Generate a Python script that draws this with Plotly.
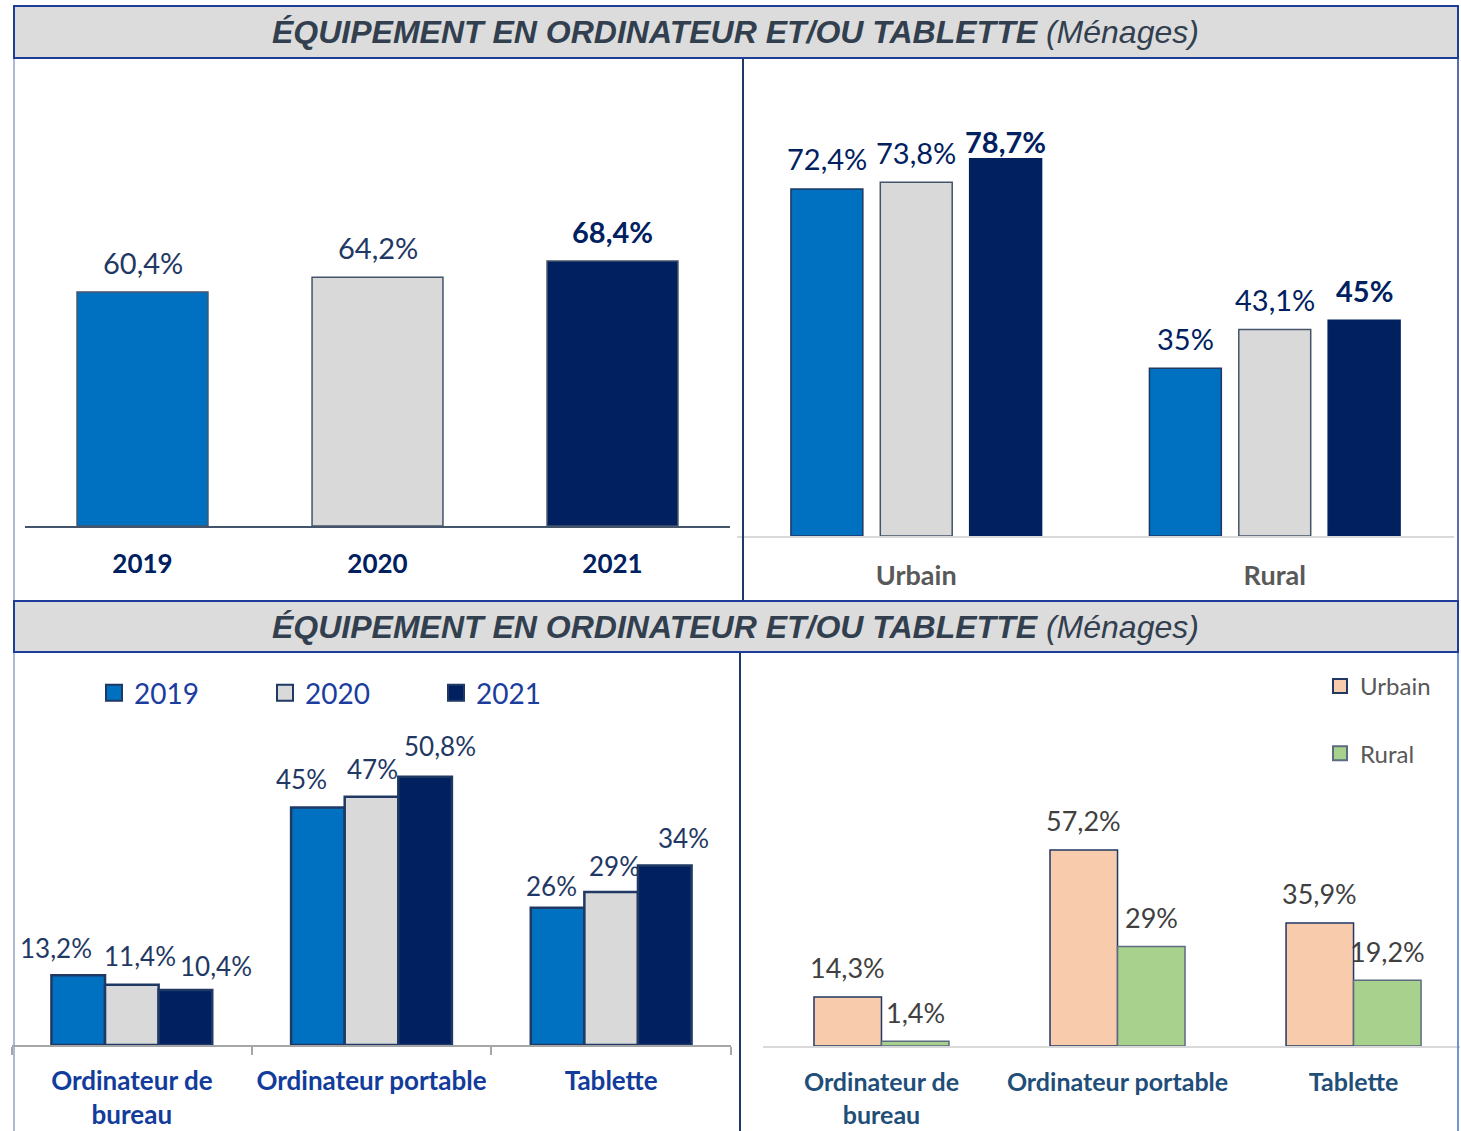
import plotly.graph_objects as go

# ---------------- data ----------------
years = ["2019", "2020", "2021"]
overall = [60.4, 64.2, 68.4]

zones = ["Urbain", "Rural"]
zone_2019 = [72.4, 35.0]
zone_2020 = [73.8, 43.1]
zone_2021 = [78.7, 45.0]

devices = ["Ordinateur de<br>bureau", "Ordinateur portable", "Tablette"]
dev_2019 = [13.2, 45.0, 26.0]
dev_2020 = [11.4, 47.0, 29.0]
dev_2021 = [10.4, 50.8, 34.0]

dev_urbain = [14.3, 57.2, 35.9]
dev_rural = [1.4, 29.0, 19.2]

title_txt = "<i><b>ÉQUIPEMENT EN ORDINATEUR ET/OU TABLETTE</b> (Ménages)</i>"

# ---------------- styling ----------------
W, H = 1461, 1131
BLUE, GREY, NAVY = "#0070C0", "#D9D9D9", "#002060"
PEACH, GREEN = "#F8CBAD", "#A9D18E"
FONT = "Lato"


def px(x):
    return x / W


def py(y):
    return 1 - y / H


def fmt(v):
    return f"{v:g}".replace(".", ",") + "%"


fig = go.Figure()
annotations = []


def label(xref, yref, x, y, text, size, color, bold=False, xshift=0, yshift=30):
    annotations.append(dict(
        xref=xref, yref=yref, x=x, y=y, text=(f"<b>{text}</b>" if bold else text),
        showarrow=False, xanchor="center", yanchor="middle",
        xshift=xshift, yshift=yshift,
        font=dict(family=FONT, size=size, color=color)))


# ---------- top-left : overall by year ----------
w1 = 0.557
fig.add_trace(go.Bar(
    x=years, y=overall, xaxis="x", yaxis="y", width=w1, offset=-w1 / 2,
    marker=dict(color=[BLUE, GREY, NAVY], line=dict(color="#44546A", width=1.5)),
    showlegend=False, hoverinfo="skip"))
for i, v in enumerate(overall):
    bold = i == len(overall) - 1
    label("x", "y", i, v, fmt(v), 29, NAVY if bold else "#1F3864", bold=bold)

# ---------- top-right : by zone and year ----------
sp2 = 0.2493   # centre spacing between bars of a group (category units)
w2 = 0.2006
zone_series = [(zone_2019, BLUE, "#1F3864"), (zone_2020, GREY, "#44546A"), (zone_2021, NAVY, NAVY)]
for k, (vals, col, lcol) in enumerate(zone_series):
    centre = (k - 1) * sp2
    off = centre - w2 / 2
    fig.add_trace(go.Bar(
        x=zones, y=vals, xaxis="x2", yaxis="y2", width=w2, offset=off,
        marker=dict(color=col, line=dict(color=lcol, width=1.5)),
        showlegend=False, hoverinfo="skip"))
    for i, v in enumerate(vals):
        bold = k == 2
        ys = 17 if (bold and i == 0) else 30
        label("x2", "y2", i + centre, v, fmt(v), 29, NAVY, bold=bold, yshift=ys)

# ---------- bottom-left : devices by year ----------
g3 = 0.671
w3 = g3 / 3
nudge3 = [[-22, -16, -6], [8, 1, 3], [31, 15, 19]]
yshift3 = [[27, 28, 22], [29, 28, 26], [24, 31, 27]]
dev_series = [("2019", dev_2019, BLUE), ("2020", dev_2020, GREY), ("2021", dev_2021, NAVY)]
for k, (name, vals, col) in enumerate(dev_series):
    off = -g3 / 2 + k * w3
    fig.add_trace(go.Bar(
        name=name, x=devices, y=vals, xaxis="x3", yaxis="y3", width=w3, offset=off,
        marker=dict(color=col, line=dict(color="#1F3864", width=2.5)),
        showlegend=False, hoverinfo="skip"))
    # legend proxy (larger square swatch like the original)
    fig.add_trace(go.Scatter(
        name=name, x=[None], y=[None], xaxis="x3", yaxis="y3", mode="markers",
        marker=dict(symbol="square", size=16, color=col, line=dict(color="#1F3864", width=2)),
        legend="legend", hoverinfo="skip"))
    for i, v in enumerate(vals):
        label("x3", "y3", i + off + w3 / 2, v, fmt(v), 26, "#1F3864",
              xshift=nudge3[k][i], yshift=yshift3[k][i])

# ---------- bottom-right : devices by zone ----------
w4 = 0.286
zone_dev = [("Urbain", dev_urbain, PEACH, "#1F3864"), ("Rural", dev_rural, GREEN, "#5B6B80")]
for k, (name, vals, col, lcol) in enumerate(zone_dev):
    off = -w4 + k * w4
    fig.add_trace(go.Bar(
        name=name, x=devices, y=vals, xaxis="x4", yaxis="y4", width=w4, offset=off,
        marker=dict(color=col, line=dict(color=lcol, width=1.5)),
        showlegend=False, hoverinfo="skip"))
    fig.add_trace(go.Scatter(
        name=name, x=[None], y=[None], xaxis="x4", yaxis="y4", mode="markers",
        marker=dict(symbol="square", size=14, color=col, line=dict(color=lcol, width=2)),
        legend="legend2", legendgroup=name, hoverinfo="skip"))
    for i, v in enumerate(vals):
        label("x4", "y4", i + off + w4 / 2, v, fmt(v), 27, "#404040", yshift=29)

# ---------------- frame shapes ----------------
shapes = []
for (y0, y1) in [(6, 58), (601, 652)]:
    shapes.append(dict(type="rect", xref="paper", yref="paper",
                       x0=px(14), x1=px(1458), y0=py(y1), y1=py(y0),
                       fillcolor="#DCDCDC", line=dict(color="#1F3C99", width=2), layer="below"))
    annotations.append(dict(xref="paper", yref="paper", x=px(736), y=py((y0 + y1) / 2),
                            text=title_txt, showarrow=False, xanchor="center", yanchor="middle",
                            font=dict(family="Liberation Sans", size=32, color="#323F4F")))


def vline(x, y0, y1, color, width):
    shapes.append(dict(type="line", xref="paper", yref="paper",
                       x0=px(x), x1=px(x), y0=py(y0), y1=py(y1),
                       line=dict(color=color, width=width)))


vline(14, 59, 600, "#8FA3C8", 1.5)
vline(743, 59, 600, "#1F3864", 2)
vline(1458, 59, 600, "#1F3C99", 1.5)
vline(14, 653, 1131, "#8FA3C8", 1.5)
vline(740, 653, 1131, "#1F3864", 2)
vline(1458, 653, 1131, "#4472C4", 1.5)


def yrange(base_px, top_px, px_per_unit):
    return [0, (base_px - top_px) / px_per_unit]


common_y = dict(visible=False, fixedrange=True)
common_x = dict(type="category", showgrid=False, tickangle=0, automargin=False, fixedrange=True)

fig.update_layout(
    width=W, height=H, autosize=False,
    margin=dict(l=0, r=0, t=0, b=0, autoexpand=False),
    paper_bgcolor="white", plot_bgcolor="rgba(0,0,0,0)",
    barmode="overlay",
    font=dict(family=FONT),
    xaxis=dict(domain=[px(25), px(730)], anchor="y",
               showline=True, linecolor="#44546A", linewidth=2, ticks="",
               tickfont=dict(family=FONT, size=26, color=NAVY, weight="bold"),
               ticklabelstandoff=14, **common_x),
    yaxis=dict(domain=[py(526), py(70)], range=yrange(526, 70, 3.874), **common_y),
    xaxis2=dict(domain=[px(737), px(1454)], anchor="y2",
                showline=True, linecolor="#D9D9D9", linewidth=2, ticks="",
                tickfont=dict(family=FONT, size=27, color="#595959", weight="bold"),
                ticklabelstandoff=15, **common_x),
    yaxis2=dict(domain=[py(536), py(70)], range=yrange(536, 70, 4.793), **common_y),
    xaxis3=dict(domain=[px(12), px(731)], anchor="y3",
                showline=True, linecolor="#A6A6A6", linewidth=2,
                ticks="outside", tickson="boundaries", ticklen=8, tickcolor="#A6A6A6",
                tickwidth=1.5,
                tickfont=dict(family=FONT, size=26, color="#123C9C", weight="bold"),
                ticklabelstandoff=12, **common_x),
    yaxis3=dict(domain=[py(1045), py(700)], range=yrange(1045, 700, 5.28), **common_y),
    xaxis4=dict(domain=[px(763), px(1460)], anchor="y4",
                range=[-0.502, 2.451],
                showline=True, linecolor="#D9D9D9", linewidth=2, ticks="",
                tickfont=dict(family=FONT, size=25, color="#1F4E79", weight="bold"),
                ticklabelstandoff=13, **common_x),
    yaxis4=dict(domain=[py(1046), py(700)], range=yrange(1046, 700, 3.427), **common_y),
    legend=dict(orientation="h", x=px(94), y=py(693), xanchor="left", yanchor="middle",
                entrywidth=126, entrywidthmode="pixels", itemsizing="trace",
                font=dict(family=FONT, size=28, color="#1B3D9E"),
                bgcolor="rgba(0,0,0,0)"),
    legend2=dict(orientation="v", x=px(1320), y=py(664), xanchor="left", yanchor="top",
                 tracegroupgap=33, traceorder="grouped", itemsizing="trace",
                 font=dict(family=FONT, size=24, color="#595959"),
                 bgcolor="rgba(0,0,0,0)"),
    shapes=shapes,
    annotations=annotations,
)

fig.write_html("out.html", config={"displayModeBar": False},
               post_script="document.body.style.margin='0px';")
